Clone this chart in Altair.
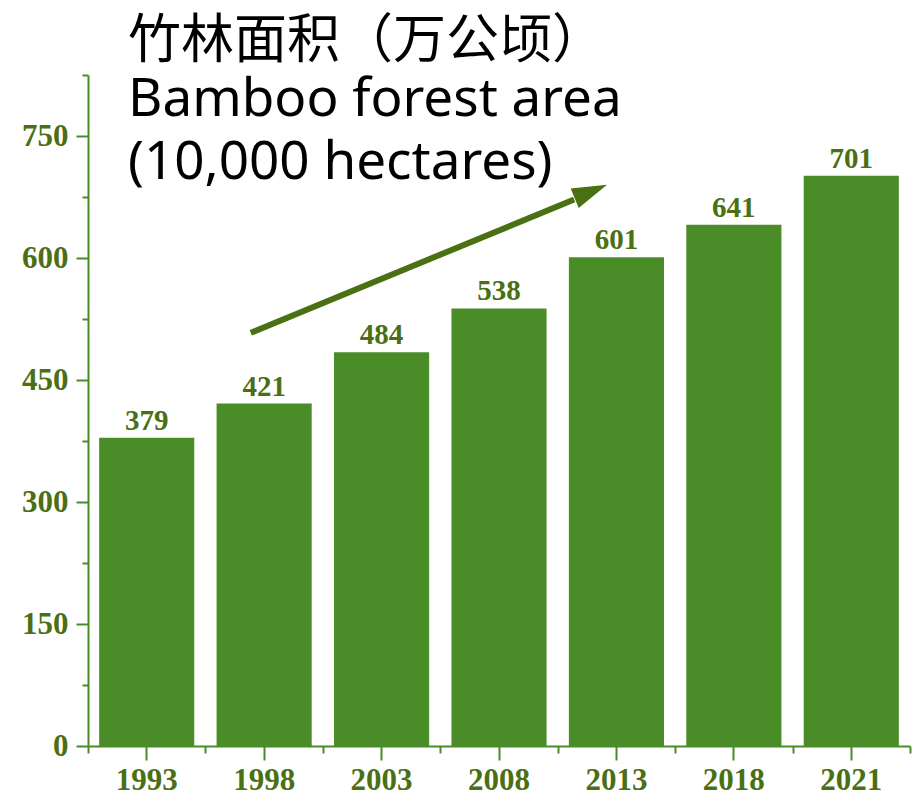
import altair as alt
import pandas as pd

years = ["1993", "1998", "2003", "2008", "2013", "2018", "2021"]
areas = [379, 421, 484, 538, 601, 641, 701]

# trend arrow annotation (x in band-slot units 0..7, y in data units)
arrow_shaft_x = [1.386, 4.14]
arrow_shaft_y = [508, 672]
arrow_tip_x = [4.42]
arrow_tip_y = [690]

y_major = [0, 150, 300, 450, 600, 750]
y_minor = [75, 225, 375, 525, 675, 825]
x_minor = [0, 1, 2, 3, 4, 5, 6, 7]

BAR = "#4a8c27"
LAB = "#4b7014"
ARROW = "#4a7012"

df = pd.DataFrame({"year": years, "area": areas})
shaft = pd.DataFrame({"x": arrow_shaft_x, "y": arrow_shaft_y})
tip = pd.DataFrame({"x": arrow_tip_x, "y": arrow_tip_y})

yscale = alt.Scale(domain=[0, 825], nice=False, zero=True)
xband = alt.Scale(paddingInner=0.19, paddingOuter=0.095)
xq = alt.Scale(domain=[0, 7], nice=False, zero=False)

lab_font = "Liberation Serif"

x_major_axis = alt.Axis(labelAngle=0, labelFont=lab_font, labelFontWeight="bold",
                        labelFontSize=31, labelColor=LAB, domainColor=BAR,
                        domainWidth=2, tickColor=BAR, tickWidth=2, tickSize=14,
                        labelPadding=5, grid=False, title=None, orient="bottom")
y_major_axis = alt.Axis(values=y_major, labelFont=lab_font, labelFontWeight="bold",
                        labelFontSize=31, labelColor=LAB, domainColor=BAR,
                        domainWidth=2, tickColor=BAR, tickWidth=2, tickSize=12,
                        labelPadding=8, grid=False, orient="left", title=None)
x_minor_axis = alt.Axis(values=x_minor, labels=False, domain=False, tickColor=BAR,
                        tickWidth=2, tickSize=7, grid=False, orient="bottom", title=None)
y_minor_axis = alt.Axis(values=y_minor, labels=False, domain=False, tickColor=BAR,
                        tickWidth=2, tickSize=6, grid=False, orient="left", title=None)

bars = alt.Chart(df).mark_bar(color=BAR).encode(
    x=alt.X("year:N", scale=xband, sort=None, title=None, axis=x_major_axis),
    y=alt.Y("area:Q", scale=yscale, title=None, axis=y_major_axis),
)

labels = alt.Chart(df).mark_text(
    baseline="bottom", dy=-2, font=lab_font, fontWeight="bold", fontSize=29, color=LAB
).encode(
    x=alt.X("year:N", scale=xband, sort=None, title=None, axis=x_major_axis),
    y=alt.Y("area:Q", scale=yscale, title=None, axis=y_major_axis),
    text=alt.Text("area:Q"),
)

shaft_line = alt.Chart(shaft).mark_line(color=ARROW, strokeWidth=6, strokeCap="butt").encode(
    x=alt.X("x:Q", scale=xq, title=None, axis=x_minor_axis),
    y=alt.Y("y:Q", scale=yscale, title=None, axis=y_minor_axis),
)

head = alt.Chart(tip).mark_point(
    shape="M0,0 L1.05,3.5 L-1.05,3.5 Z", filled=True, opacity=1, color=ARROW,
    size=400, angle=67.5, strokeWidth=0
).encode(
    x=alt.X("x:Q", scale=xq, title=None, axis=x_minor_axis),
    y=alt.Y("y:Q", scale=yscale, title=None, axis=y_minor_axis),
)

chart = alt.layer(
    alt.layer(bars, labels),
    alt.layer(shaft_line, head),
).resolve_scale(x="independent").resolve_axis(x="independent", y="independent").properties(
    width=822,
    height=671,
    padding={"left": 88, "top": 75, "right": 2, "bottom": 51},
    autosize=alt.AutoSizeParams(type="none"),
    title=alt.TitleParams(
        text="竹林面积（万公顷）",
        subtitle=["Bamboo forest area", "(10,000 hectares)"],
        font="Noto Sans CJK SC", fontSize=53, fontWeight="normal", color="black",
        subtitleFont="Noto Sans", subtitleFontSize=53, subtitleColor="black",
        subtitleLineHeight=63, subtitlePadding=5,
        anchor="start", frame="group", orient="top", offset=0, dx=40, dy=116,
    ),
).configure_view(stroke=None)

chart.save("out.html", embed_options={"renderer": "svg", "actions": False})
